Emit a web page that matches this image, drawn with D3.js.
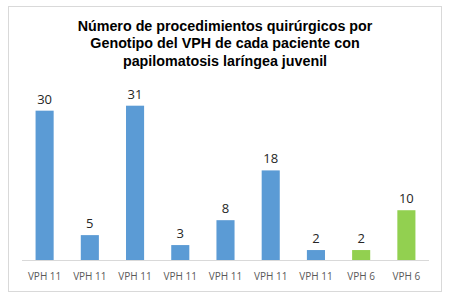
<!DOCTYPE html>
<html>
<head>
<meta charset="utf-8">
<script src="https://cdn.jsdelivr.net/npm/d3@7"></script>
<style>
  body { margin: 0; background: #fff; }
  svg { display: block; }
</style>
</head>
<body>
<div id="chart"></div>
<script>
const categories = ['VPH 11', 'VPH 11', 'VPH 11', 'VPH 11', 'VPH 11', 'VPH 11', 'VPH 11', 'VPH 6', 'VPH 6'];
const values = [30, 5, 31, 3, 8, 18, 2, 2, 10];
const genotypes = ['11', '11', '11', '11', '11', '11', '11', '6', '6'];
const titleLines = [
    'Número de procedimientos quirúrgicos por',
    'Genotipo del VPH de cada paciente con',
    'papilomatosis laríngea juvenil',
];

const W = 450;
const H = 300;
const M = { left: 22, right: 21, top: 105.7, bottom: 40 };
const COLORS = { '11': '#5B9BD5', '6': '#92D050' };

const svg = d3.select('#chart').append('svg')
    .attr('width', W)
    .attr('height', H);

// chart frame
svg.append('rect')
    .attr('x', 8.5)
    .attr('y', 6.5)
    .attr('width', 433)
    .attr('height', 285)
    .attr('fill', '#fff')
    .attr('stroke', '#D9D9D9');

const title = svg.append('text')
    .attr('text-anchor', 'middle')
    .style('font', 'bold 14.3px "Liberation Sans", Arial, sans-serif')
    .attr('fill', '#000');

title.selectAll('tspan')
    .data(titleLines)
    .join('tspan')
    .attr('x', W / 2)
    .attr('y', (d, i) => 30.5 + i * 17.5)
    .text((d) => d);

const baseline = H - M.bottom;
const data = categories.map((c, i) => ({ i, cat: c, value: values[i], gt: genotypes[i] }));

const x = d3.scaleBand()
    .domain(d3.range(data.length))
    .range([M.left, W - M.right])
    .paddingInner(0.6)
    .paddingOuter(0.3);

const y = d3.scaleLinear()
    .domain([0, 31])
    .range([baseline, M.top]);

svg.append('g')
    .selectAll('rect')
    .data(data)
    .join('rect')
    .attr('x', (d) => x(d.i))
    .attr('y', (d) => y(d.value))
    .attr('width', x.bandwidth())
    .attr('height', (d) => baseline - y(d.value))
    .attr('fill', (d) => COLORS[d.gt]);

// axis line
svg.append('line')
    .attr('x1', M.left)
    .attr('x2', W - M.right)
    .attr('y1', baseline + 0.5)
    .attr('y2', baseline + 0.5)
    .attr('stroke', '#D9D9D9');

svg.append('g')
    .selectAll('text')
    .data(data)
    .join('text')
    .attr('x', (d) => x(d.i) + x.bandwidth() / 2)
    .attr('y', (d) => y(d.value) - 7)
    .attr('text-anchor', 'middle')
    .style('font', '13px "Open Sans", "DejaVu Sans", sans-serif')
    .attr('fill', '#262626')
    .text((d) => d.value);

svg.append('g')
    .selectAll('text')
    .data(data)
    .join('text')
    .attr('x', (d) => x(d.i) + x.bandwidth() / 2)
    .attr('y', baseline + 20)
    .attr('text-anchor', 'middle')
    .style('font', '10px "Open Sans", "DejaVu Sans", sans-serif')
    .attr('fill', '#595959')
    .text((d) => d.cat);
</script>
</body>
</html>
